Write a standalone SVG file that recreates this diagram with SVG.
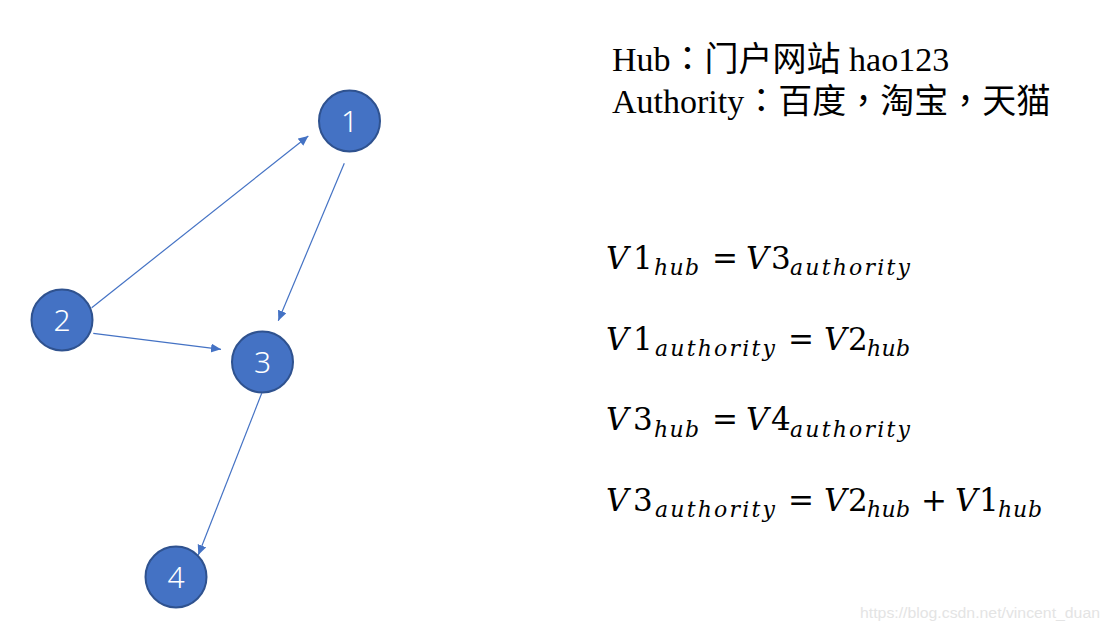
<svg xmlns="http://www.w3.org/2000/svg" width="1108" height="632" viewBox="0 0 1108 632">
<style>
.node circle{fill:#4472C4;stroke:#2F528F;stroke-width:2}
.node text{fill:#ffffff;font-family:"Noto Sans","Lato","Liberation Sans",sans-serif;font-weight:300;font-size:30px;text-anchor:middle}
.edge{stroke:#4472C4;stroke-width:1.2;fill:none;marker-end:url(#arrow)}
.zh{font-family:"Liberation Serif","Noto Sans CJK TC",serif;font-size:34px;fill:#000}
.mi{font-family:"DejaVu Serif",serif;font-style:italic;font-size:31px;fill:#000}
.mn{font-family:"DejaVu Serif",serif;font-style:normal;font-size:31px;fill:#000}
.sub{font-family:"DejaVu Serif",serif;font-style:italic;font-size:22px;fill:#000}
.op{font-family:"DejaVu Serif",serif;font-size:31px;fill:#000}
.wm{font-family:"Liberation Sans",sans-serif;font-size:15.5px;fill:#e4e4e4}
</style>
<defs>
<marker id="arrow" markerUnits="userSpaceOnUse" markerWidth="11" markerHeight="10" refX="10" refY="4.5" orient="auto">
<path d="M0,0 L10,4.5 L0,9 z" fill="#4472C4"/>
</marker>
</defs>
<g id="connectors">
<line class="edge" x1="91.7" y1="307.7" x2="308.3" y2="136"/>
<line class="edge" x1="344.3" y1="163.3" x2="278.3" y2="320.7"/>
<line class="edge" x1="93.3" y1="333.3" x2="221" y2="349.3"/>
<line class="edge" x1="261.7" y1="393.3" x2="198.3" y2="555"/>
</g>
<g id="node1" class="node"><circle cx="349.5" cy="121" r="30.5"/><text x="349.5" y="132">1</text></g>
<g id="node2" class="node"><circle cx="62" cy="320" r="30.5"/><text x="62" y="331">2</text></g>
<g id="node3" class="node"><circle cx="262.5" cy="362" r="30.5"/><text x="262.5" y="373">3</text></g>
<g id="node4" class="node"><circle cx="176" cy="577" r="30.5"/><text x="176" y="588">4</text></g>
<g id="legend">
<text class="zh" x="612" y="71">Hub：门户网站 hao123</text>
<text class="zh" x="612" y="112.5">Authority：百度，淘宝，天猫</text>
</g>
<g id="equations">
<text class="mi" x="606" y="268.5">V</text><text class="mn" x="633" y="268.5">1</text>
<text class="sub" x="654" y="275" textLength="45" lengthAdjust="spacing">hub</text>
<text class="op" x="712" y="268.5">=</text>
<text class="mi" x="746" y="268.5">V</text><text class="mn" x="771" y="268.5">3</text>
<text class="sub" x="790" y="275" textLength="120" lengthAdjust="spacing">authority</text>

<text class="mi" x="606" y="349.5">V</text><text class="mn" x="633" y="349.5">1</text>
<text class="sub" x="655" y="356" textLength="120" lengthAdjust="spacing">authority</text>
<text class="op" x="788" y="349.5">=</text>
<text class="mi" x="824" y="349.5">V</text><text class="mn" x="848" y="349.5">2</text>
<text class="sub" x="867" y="356" textLength="43" lengthAdjust="spacing">hub</text>

<text class="mi" x="606" y="430">V</text><text class="mn" x="633" y="430">3</text>
<text class="sub" x="654" y="436.5" textLength="45" lengthAdjust="spacing">hub</text>
<text class="op" x="712" y="430">=</text>
<text class="mi" x="746" y="430">V</text><text class="mn" x="771" y="430">4</text>
<text class="sub" x="790" y="436.5" textLength="120" lengthAdjust="spacing">authority</text>

<text class="mi" x="606" y="510.5">V</text><text class="mn" x="633" y="510.5">3</text>
<text class="sub" x="655" y="517" textLength="120" lengthAdjust="spacing">authority</text>
<text class="op" x="788" y="510.5">=</text>
<text class="mi" x="824" y="510.5">V</text><text class="mn" x="848" y="510.5">2</text>
<text class="sub" x="867" y="517" textLength="43" lengthAdjust="spacing">hub</text>
<text class="op" x="921" y="510.5">+</text>
<text class="mi" x="955" y="510.5">V</text><text class="mn" x="979" y="510.5">1</text>
<text class="sub" x="998" y="517" textLength="44" lengthAdjust="spacing">hub</text>
</g>
<text class="wm" x="860" y="618" textLength="240" lengthAdjust="spacingAndGlyphs">https://blog.csdn.net/vincent_duan</text>
</svg>
